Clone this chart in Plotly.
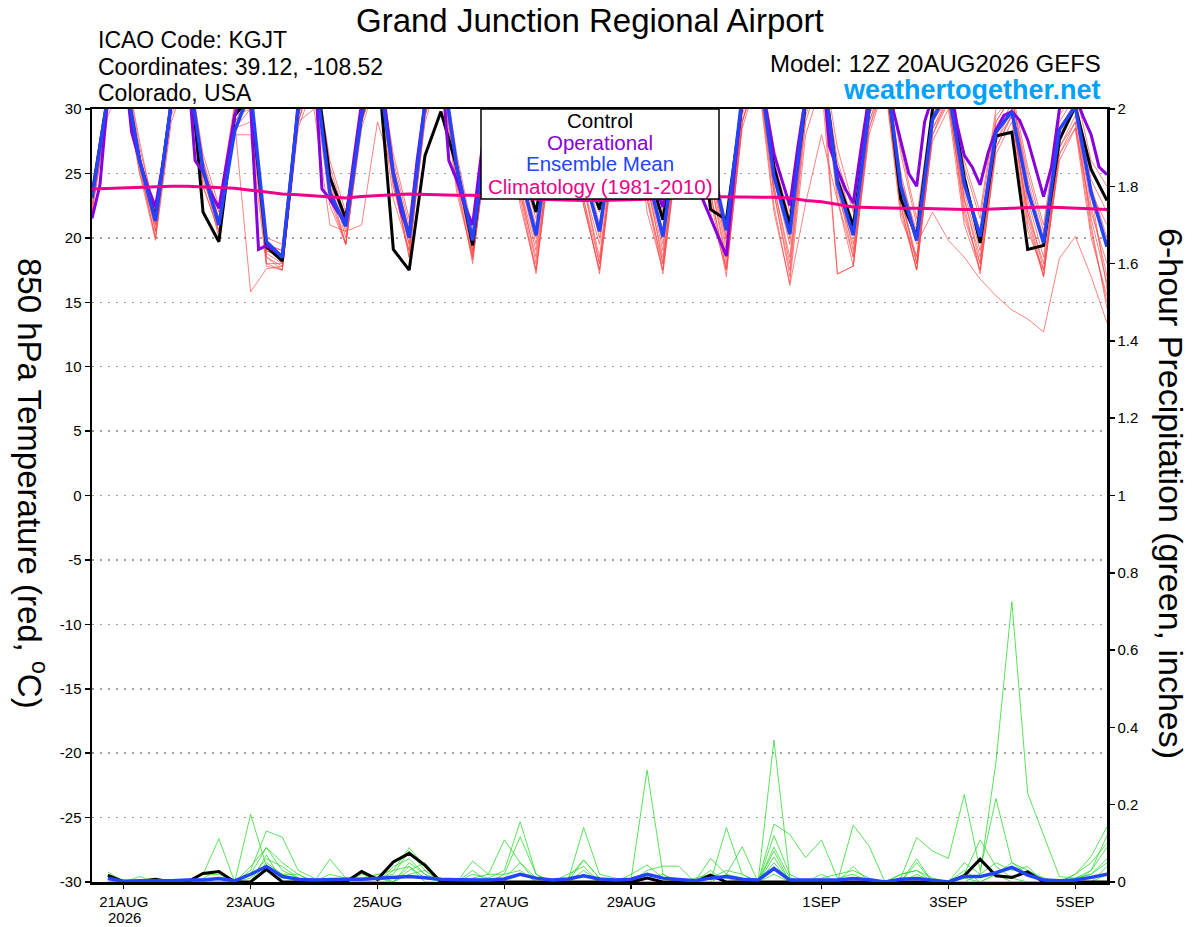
import pandas as pd
import plotly.graph_objects as go

# ---------------- data ----------------
START = "2026-08-20 12:00"
times6 = pd.date_range(START, periods=65, freq="6h")
times3 = pd.date_range(START, periods=129, freq="3h")
ptimes = times6[1:]

tick_dates = ["2026-08-21", "2026-08-23", "2026-08-25", "2026-08-27",
              "2026-08-29", "2026-09-01", "2026-09-03", "2026-09-05"]
tick_labels = ["21AUG", "23AUG", "25AUG", "27AUG", "29AUG", "1SEP", "3SEP", "5SEP"]
year_label = "2026"
temp_ticks = [-30, -25, -20, -15, -10, -5, 0, 5, 10, 15, 20, 25, 30]
temp_tick_labels = ["-30", "-25", "-20", "-15", "-10", "-5", "0", "5", "10", "15", "20", "25", "30"]

# 850 hPa temperature (C), 6-hourly
control_t = [23.3, 31.0, 33.0, 26.0, 21.5, 30.5, 36.0, 22.0, 19.7, 29.5, 31.0, 19.3,
             18.2, 30.0, 34.0, 24.7, 21.5, 29.5, 34.0, 19.1, 17.5, 26.4, 29.8, 25.5,
             19.4, 29.0, 33.0, 26.0, 22.0, 29.0, 33.0, 25.5, 22.2, 29.0, 33.0, 25.5,
             21.4, 29.0, 33.0, 22.2, 21.4, 30.5, 34.0, 25.5, 21.0, 30.5, 34.0, 24.5,
             20.9, 30.0, 34.0, 23.0, 20.1, 30.0, 32.0, 24.7, 19.6, 27.9, 28.2, 19.1,
             19.4, 27.6, 30.2, 25.3, 22.9]
mean_t = [23.1, 31.0, 33.0, 26.0, 21.3, 30.5, 33.5, 25.3, 21.0, 28.3, 31.5, 19.7,
          18.5, 30.0, 33.5, 23.5, 20.9, 29.5, 33.5, 25.0, 20.0, 30.5, 34.0, 25.5,
          19.8, 29.0, 33.0, 25.0, 20.2, 29.0, 33.0, 25.0, 20.5, 29.0, 33.0, 25.0,
          20.1, 29.0, 33.0, 26.0, 20.6, 31.0, 34.0, 24.8, 20.3, 31.0, 34.0, 24.2,
          20.2, 30.0, 33.5, 24.0, 19.8, 29.2, 31.5, 24.2, 20.1, 28.2, 29.8, 23.7,
          19.6, 28.4, 30.2, 23.5, 19.3]
# operational, 3-hourly
oper_t = [21.5, 24.1, 31.0, 33.0, 34.0, 28.2, 26.0, 24.0, 22.4, 26.0,
          30.5, 33.0, 34.0, 26.0, 25.1, 23.5, 22.3, 26.0, 29.5, 31.5,
          30.3, 19.1, 19.4, 19.0, 18.6, 24.0, 30.5, 33.0, 34.0, 23.8,
          23.0, 22.0, 21.3, 26.0, 30.5, 33.0, 34.0, 30.0, 25.0, 22.0,
          20.3, 26.0, 30.5, 33.0, 34.0, 26.0, 24.5, 22.5, 21.0, 26.0,
          30.5, 33.0, 34.0, 30.0, 26.5, 24.5, 23.5, 27.0, 30.5, 33.0,
          34.0, 30.0, 26.5, 24.5, 23.5, 27.0, 30.5, 33.0, 34.0, 30.0,
          26.0, 24.0, 22.4, 26.0, 30.5, 33.0, 34.0, 23.0, 21.5, 20.0,
          18.6, 25.0, 31.0, 33.0, 34.0, 30.0, 26.5, 24.5, 22.5, 27.0,
          31.0, 33.0, 34.0, 27.1, 25.3, 23.8, 22.7, 27.0, 31.0, 33.0,
          34.0, 30.0, 27.5, 25.0, 24.0, 29.0, 31.0, 33.0, 33.0, 29.0,
          26.4, 25.5, 24.1, 26.6, 28.4, 29.5, 29.8, 29.1, 27.6, 25.5,
          23.2, 25.5, 30.0, 31.0, 31.0, 29.4, 28.0, 25.5, 24.9]
clim_t = [23.8, 23.85, 23.9, 23.9, 24.0, 24.0, 24.0, 23.95, 23.9, 23.85, 23.7, 23.55,
          23.4, 23.35, 23.25, 23.2, 23.1, 23.2, 23.3, 23.35, 23.4, 23.35, 23.3, 23.3,
          23.3, 23.25, 23.2, 23.1, 23.0, 22.95, 22.9, 22.9, 22.9, 22.9, 22.95, 23.0,
          23.1, 23.15, 23.2, 23.2, 23.2, 23.2, 23.2, 23.15, 23.1, 22.9, 22.8, 22.6,
          22.4, 22.35, 22.3, 22.3, 22.3, 22.25, 22.2, 22.2, 22.2, 22.25, 22.3, 22.35,
          22.4, 22.35, 22.3, 22.25, 22.2]

member01 = [23.0, 30.5, 33.0, 26.5, 20.5, 30.0, 34.0, 25.0, 21.5, 29.0, 31.0, 18.5,
            17.8, 29.5, 33.5, 24.5, 20.0, 29.0, 33.0, 24.0, 19.0, 30.0, 34.0, 25.0,
            18.5, 28.5, 33.0, 24.0, 19.0, 28.0, 32.5, 24.0, 18.5, 28.5, 33.0, 24.5,
            18.0, 28.5, 33.0, 25.0, 19.0, 30.0, 33.5, 24.0, 18.5, 30.0, 33.0, 23.5,
            19.5, 29.5, 33.0, 23.0, 18.5, 28.5, 31.0, 23.0, 18.5, 27.5, 29.5, 22.0,
            18.0, 27.0, 29.5, 22.5, 17.0]
member02 = [23.5, 31.0, 34.0, 27.0, 22.0, 31.0, 34.5, 26.0, 22.0, 30.0, 32.0, 19.5,
            19.0, 30.5, 34.0, 25.5, 21.5, 30.0, 34.0, 26.0, 21.0, 31.0, 34.5, 26.0,
            20.0, 29.5, 33.5, 25.5, 21.5, 29.5, 33.0, 26.0, 21.0, 29.0, 33.5, 26.0,
            21.5, 29.5, 34.0, 26.5, 20.5, 31.0, 34.0, 26.0, 21.5, 31.0, 34.0, 26.0,
            22.0, 31.0, 34.0, 26.5, 21.0, 30.0, 32.5, 25.5, 21.5, 29.5, 31.0, 25.0,
            20.5, 29.0, 31.0, 24.5, 22.0]
member03 = [22.5, 30.0, 33.0, 25.5, 20.0, 30.0, 33.0, 24.0, 20.5, 29.0, 15.8, 17.6,
            17.8, 29.0, 33.0, 23.0, 19.5, 29.5, 33.5, 24.5, 18.5, 29.5, 33.5, 24.0,
            18.3, 28.0, 32.5, 23.0, 17.2, 27.5, 32.0, 22.5, 17.5, 28.0, 32.5, 23.5,
            17.5, 28.0, 32.5, 23.0, 17.0, 29.0, 33.0, 22.5, 16.3, 22.7, 28.0, 23.0,
            17.8, 29.0, 32.5, 22.0, 17.5, 28.0, 31.0, 21.5, 18.0, 27.5, 30.0, 21.0,
            17.0, 26.5, 29.0, 20.5, 15.0]
member04 = [23.0, 30.5, 33.5, 26.0, 21.0, 30.5, 33.5, 25.5, 21.0, 29.5, 30.5, 18.0,
            18.0, 30.0, 33.0, 24.0, 20.5, 29.5, 33.5, 25.0, 19.5, 30.0, 34.0, 25.5,
            19.0, 29.0, 33.0, 24.5, 20.0, 29.0, 33.0, 25.0, 20.0, 28.5, 33.0, 25.0,
            19.5, 29.0, 33.5, 25.5, 19.5, 30.5, 33.5, 25.0, 20.0, 30.5, 33.5, 24.5,
            20.5, 30.0, 33.0, 23.5, 19.5, 22.0, 19.8, 18.5, 16.8, 15.5, 14.4, 13.7,
            12.7, 18.4, 20.1, 17.0, 13.4]
member05 = [23.5, 31.0, 33.0, 26.0, 21.5, 30.5, 33.5, 26.0, 21.0, 29.5, 31.0, 19.0,
            18.5, 29.0, 30.0, 21.0, 20.5, 21.0, 29.0, 25.0, 20.5, 30.0, 33.5, 24.5,
            19.5, 29.0, 33.0, 24.0, 18.0, 28.0, 32.5, 24.0, 19.5, 28.5, 33.0, 24.5,
            19.0, 29.0, 33.0, 24.5, 18.5, 30.0, 33.5, 24.5, 19.5, 30.0, 33.5, 17.2,
            17.8, 28.5, 32.0, 23.0, 18.0, 29.0, 31.0, 23.5, 19.0, 28.0, 30.0, 23.0,
            18.5, 28.0, 30.0, 23.5, 16.0]
member06 = [22.0, 30.0, 32.5, 25.0, 21.0, 30.0, 33.0, 25.0, 20.5, 28.5, 30.0, 18.0,
            17.5, 29.0, 33.0, 24.0, 19.5, 29.0, 33.0, 24.0, 19.5, 29.5, 33.5, 25.0,
            18.8, 28.5, 32.5, 23.5, 17.5, 27.5, 32.5, 23.0, 17.2, 27.5, 32.5, 23.0,
            17.2, 27.5, 32.5, 23.5, 17.5, 29.0, 33.0, 23.5, 17.5, 29.5, 33.0, 24.0,
            18.5, 29.0, 32.5, 22.5, 17.5, 28.0, 30.5, 22.0, 17.5, 27.0, 29.5, 21.5,
            17.0, 26.5, 28.5, 22.0, 18.0]
member07 = [24.0, 31.5, 34.0, 27.5, 21.5, 31.0, 34.0, 26.5, 22.5, 30.5, 31.5, 20.0,
            19.5, 30.5, 34.0, 26.0, 22.0, 30.5, 34.0, 26.5, 21.5, 31.0, 34.5, 26.5,
            20.5, 30.0, 34.0, 26.5, 22.0, 30.0, 34.0, 26.5, 22.0, 30.0, 34.0, 26.5,
            22.0, 30.0, 34.0, 27.0, 21.0, 31.5, 34.5, 27.0, 22.0, 31.5, 34.5, 27.0,
            22.5, 31.5, 34.0, 27.0, 21.5, 30.5, 33.0, 26.0, 22.0, 30.0, 31.5, 25.5,
            21.0, 29.5, 31.5, 26.0, 24.0]
member08 = [23.0, 30.5, 33.0, 26.0, 20.5, 30.5, 33.5, 25.0, 20.0, 29.0, 30.5, 18.8,
            18.0, 29.5, 33.0, 24.5, 21.0, 29.5, 33.5, 25.0, 20.0, 30.0, 34.0, 25.5,
            19.0, 28.5, 33.0, 24.5, 19.5, 28.5, 33.0, 24.0, 18.0, 28.0, 33.0, 24.0,
            18.5, 28.5, 33.0, 24.5, 18.0, 29.5, 33.5, 24.0, 18.0, 30.0, 33.5, 24.5,
            19.0, 29.5, 33.0, 23.5, 18.0, 29.0, 31.0, 23.0, 18.0, 28.0, 30.5, 22.5,
            17.5, 27.5, 30.0, 21.0, 14.5]
member09 = [22.5, 30.0, 32.5, 25.5, 20.0, 29.5, 33.0, 24.5, 21.0, 28.5, 29.0, 18.5,
            17.5, 29.0, 33.0, 23.5, 19.5, 29.0, 33.0, 24.5, 18.5, 29.5, 33.5, 24.5,
            18.0, 28.0, 32.5, 23.5, 18.5, 27.5, 32.5, 23.0, 18.0, 27.5, 32.5, 23.0,
            18.0, 28.0, 32.5, 23.5, 17.5, 29.0, 33.0, 23.5, 17.0, 29.0, 33.0, 23.0,
            18.5, 28.5, 32.5, 22.5, 17.5, 28.5, 30.5, 22.5, 17.2, 27.0, 29.5, 22.0,
            17.0, 27.0, 29.0, 21.5, 16.5]
member10 = [23.5, 30.5, 33.5, 26.5, 21.5, 30.5, 34.0, 25.5, 21.5, 29.5, 30.0, 19.0,
            18.5, 30.0, 33.5, 25.0, 21.0, 30.0, 33.5, 25.5, 20.5, 30.5, 34.0, 26.0,
            19.5, 29.5, 33.5, 25.0, 20.5, 29.5, 33.5, 25.5, 20.5, 29.0, 33.5, 25.5,
            20.5, 29.5, 33.5, 25.5, 20.0, 30.5, 34.0, 25.5, 20.5, 30.5, 34.0, 25.5,
            21.0, 30.5, 33.5, 25.0, 20.0, 29.5, 32.0, 24.5, 20.5, 29.0, 31.0, 24.0,
            19.5, 28.5, 30.5, 24.0, 20.0]
member11 = [22.0, 29.5, 32.0, 25.0, 19.8, 29.0, 32.5, 24.0, 20.5, 28.0, 28.0, 17.8,
            17.5, 28.5, 32.0, 22.5, 19.5, 28.5, 32.5, 23.0, 19.0, 29.0, 33.0, 23.5,
            18.5, 27.5, 32.0, 22.5, 17.5, 27.0, 32.0, 22.5, 17.5, 27.0, 32.0, 22.0,
            17.5, 27.5, 32.0, 22.0, 17.5, 28.5, 32.5, 22.0, 16.5, 28.0, 32.0, 17.2,
            17.8, 28.0, 32.0, 21.5, 18.5, 27.5, 30.0, 21.0, 17.5, 26.5, 29.0, 20.5,
            17.5, 26.0, 28.5, 20.0, 15.5]
member12 = [23.0, 31.0, 33.5, 26.0, 22.0, 30.5, 33.5, 25.5, 21.5, 30.0, 31.5, 19.5,
            19.0, 30.0, 33.5, 25.0, 21.0, 30.0, 33.5, 25.5, 20.5, 30.5, 34.0, 25.5,
            19.5, 29.0, 33.0, 25.0, 21.0, 29.0, 33.0, 25.0, 20.5, 29.0, 33.0, 25.0,
            20.0, 29.0, 33.0, 25.0, 20.0, 30.5, 33.5, 25.0, 20.5, 30.5, 33.5, 25.0,
            21.0, 30.5, 33.5, 24.5, 20.5, 29.5, 32.0, 24.0, 20.5, 29.0, 31.0, 24.5,
            20.0, 28.5, 30.5, 23.5, 21.0]
members_t = [member01, member02, member03, member04, member05, member06,
             member07, member08, member09, member10, member11, member12]

# 6-hour precipitation (inches), valid 18Z 20AUG .. 12Z 5SEP
control_p = [0.017, 0.0, 0.002, 0.007, 0.0, 0.0, 0.022, 0.027,
             0.0, 0.0, 0.033, 0.0, 0.0, 0.0, 0.0, 0.0,
             0.027, 0.007, 0.052, 0.074, 0.043, 0.0, 0.0, 0.0,
             0.0, 0.0, 0.0, 0.0, 0.0, 0.0, 0.0, 0.0,
             0.0, 0.0, 0.01, 0.0, 0.0, 0.0, 0.018, 0.0,
             0.0, 0.0, 0.0, 0.0, 0.0, 0.0, 0.0, 0.0,
             0.0, 0.0, 0.0, 0.0, 0.0, 0.0, 0.016, 0.059,
             0.016, 0.012, 0.026, 0.0, 0.0, 0.0, 0.0, 0.0]
mean_p = [0.009, 0.002, 0.003, 0.002, 0.003, 0.005, 0.005, 0.009,
          0.003, 0.02, 0.04, 0.014, 0.007, 0.005, 0.007, 0.007,
          0.007, 0.009, 0.011, 0.014, 0.011, 0.007, 0.006, 0.006,
          0.005, 0.008, 0.02, 0.01, 0.005, 0.008, 0.016, 0.008,
          0.005, 0.007, 0.02, 0.01, 0.006, 0.003, 0.01, 0.014,
          0.007, 0.005, 0.035, 0.005, 0.005, 0.005, 0.005, 0.009,
          0.006, 0.0, 0.007, 0.009, 0.004, 0.0, 0.014, 0.014,
          0.024, 0.038, 0.018, 0.005, 0.003, 0.005, 0.012, 0.02]
pmember01 = [0.026, 0.0, 0.014, 0.0, 0.0, 0.005, 0.02, 0.112,
             0.0, 0.02, 0.089, 0.03, 0.01, 0.0, 0.02, 0.01,
             0.01, 0.02, 0.03, 0.089, 0.04, 0.0, 0.0, 0.02,
             0.01, 0.03, 0.156, 0.02, 0.0, 0.01, 0.057, 0.01,
             0.0, 0.02, 0.044, 0.01, 0.0, 0.0, 0.01, 0.03,
             0.02, 0.0, 0.09, 0.01, 0.0, 0.01, 0.02, 0.03,
             0.01, 0.0, 0.02, 0.03, 0.01, 0.0, 0.05, 0.02,
             0.311, 0.725, 0.229, 0.12, 0.014, 0.01, 0.02, 0.05]
pmember02 = [0.015, 0.0, 0.005, 0.0, 0.0, 0.0, 0.01, 0.03,
             0.0, 0.175, 0.04, 0.02, 0.0, 0.0, 0.01, 0.0,
             0.02, 0.01, 0.02, 0.08, 0.03, 0.0, 0.0, 0.054,
             0.02, 0.109, 0.05, 0.01, 0.0, 0.0, 0.141, 0.02,
             0.01, 0.0, 0.01, 0.02, 0.0, 0.01, 0.02, 0.01,
             0.0, 0.0, 0.15, 0.123, 0.063, 0.109, 0.01, 0.02,
             0.0, 0.0, 0.01, 0.115, 0.08, 0.061, 0.226, 0.03,
             0.216, 0.05, 0.02, 0.01, 0.0, 0.02, 0.066, 0.143]
pmember03 = [0.01, 0.0, 0.0, 0.0, 0.0, 0.0, 0.0, 0.01,
             0.0, 0.03, 0.132, 0.116, 0.03, 0.01, 0.0, 0.0,
             0.0, 0.01, 0.0, 0.05, 0.02, 0.0, 0.0, 0.03,
             0.0, 0.02, 0.117, 0.02, 0.0, 0.0, 0.057, 0.01,
             0.0, 0.01, 0.29, 0.02, 0.0, 0.0, 0.0, 0.141,
             0.02, 0.0, 0.02, 0.0, 0.0, 0.02, 0.0, 0.147,
             0.093, 0.0, 0.02, 0.03, 0.0, 0.0, 0.01, 0.0,
             0.02, 0.05, 0.03, 0.01, 0.0, 0.02, 0.05, 0.1]
pmember04 = [0.02, 0.005, 0.0, 0.0, 0.0, 0.0, 0.0, 0.0,
             0.0, 0.04, 0.089, 0.05, 0.02, 0.0, 0.059, 0.01,
             0.0, 0.0, 0.04, 0.06, 0.02, 0.0, 0.0, 0.01,
             0.02, 0.02, 0.03, 0.0, 0.0, 0.0, 0.02, 0.0,
             0.0, 0.0, 0.03, 0.041, 0.041, 0.0, 0.061, 0.02,
             0.091, 0.0, 0.367, 0.01, 0.0, 0.0, 0.0, 0.01,
             0.0, 0.0, 0.0, 0.02, 0.0, 0.0, 0.02, 0.109,
             0.04, 0.01, 0.0, 0.0, 0.0, 0.01, 0.02, 0.06]
pmember05 = [0.0, 0.0, 0.0, 0.0, 0.0, 0.0, 0.02, 0.02,
             0.0, 0.01, 0.06, 0.04, 0.01, 0.0, 0.0, 0.0,
             0.0, 0.02, 0.0, 0.04, 0.01, 0.0, 0.0, 0.0,
             0.0, 0.01, 0.05, 0.0, 0.0, 0.0, 0.03, 0.0,
             0.0, 0.0, 0.02, 0.01, 0.0, 0.0, 0.0, 0.02,
             0.01, 0.0, 0.12, 0.02, 0.0, 0.0, 0.0, 0.04,
             0.0, 0.0, 0.0, 0.05, 0.0, 0.0, 0.0, 0.02,
             0.05, 0.03, 0.04, 0.0, 0.0, 0.0, 0.03, 0.09]
pmember06 = [0.0, 0.0, 0.0, 0.0, 0.0, 0.0, 0.0, 0.0,
             0.0, 0.0, 0.05, 0.02, 0.0, 0.0, 0.0, 0.0,
             0.0, 0.0, 0.0, 0.03, 0.05, 0.0, 0.0, 0.0,
             0.0, 0.0, 0.0, 0.0, 0.0, 0.0, 0.0, 0.0,
             0.0, 0.0, 0.0, 0.0, 0.0, 0.0, 0.0, 0.0,
             0.0, 0.0, 0.065, 0.0, 0.0, 0.0, 0.0, 0.0,
             0.0, 0.0, 0.0, 0.0, 0.0, 0.0, 0.0, 0.0,
             0.02, 0.0, 0.0, 0.0, 0.0, 0.0, 0.0, 0.02]
pmember07 = [0.01, 0.0, 0.0, 0.0, 0.0, 0.0, 0.0, 0.01,
             0.0, 0.0, 0.07, 0.0, 0.0, 0.0, 0.0, 0.0,
             0.0, 0.0, 0.03, 0.04, 0.0, 0.0, 0.0, 0.0,
             0.0, 0.0, 0.0, 0.0, 0.0, 0.02, 0.04, 0.0,
             0.0, 0.0, 0.0, 0.0, 0.0, 0.0, 0.03, 0.0,
             0.0, 0.0, 0.05, 0.0, 0.0, 0.0, 0.0, 0.0,
             0.0, 0.0, 0.0, 0.06, 0.0, 0.0, 0.03, 0.0,
             0.0, 0.0, 0.0, 0.0, 0.0, 0.0, 0.0, 0.04]
pmember08 = [0.0, 0.0, 0.0, 0.0, 0.0, 0.0, 0.0, 0.0,
             0.0, 0.0, 0.03, 0.02, 0.02, 0.0, 0.0, 0.0,
             0.0, 0.0, 0.0, 0.02, 0.03, 0.0, 0.0, 0.0,
             0.01, 0.0, 0.0, 0.0, 0.0, 0.0, 0.0, 0.0,
             0.0, 0.0, 0.0, 0.0, 0.0, 0.0, 0.0, 0.0,
             0.0, 0.0, 0.08, 0.0, 0.0, 0.0, 0.0, 0.0,
             0.0, 0.0, 0.0, 0.0, 0.0, 0.0, 0.0, 0.0,
             0.0, 0.0, 0.0, 0.0, 0.0, 0.01, 0.03, 0.12]
members_p = [pmember01, pmember02, pmember03, pmember04,
             pmember05, pmember06, pmember07, pmember08]

# ---------------- styling ----------------
FONT = "Liberation Sans"
RED = "rgba(255,70,70,0.85)"
GREEN = "#2edc2e"
BLACK = "#000000"
PURPLE = "#8800dd"
BLUE = "#2244ff"
PINK = "#ee0088"

# target plot box on screen (page body margin removed by post_script)
L, R, T, B = 92, 1107, 109, 882
W, H = 1200, 927


def px(x):
    return (x - L) / (R - L)


def py(y):
    return (B - y) / (B - T)


fig = go.Figure()

for m in members_t:
    fig.add_trace(go.Scatter(x=times6, y=m, mode="lines",
                             line=dict(color=RED, width=0.8), hoverinfo="skip"))
for m in members_p:
    fig.add_trace(go.Scatter(x=ptimes, y=m, mode="lines", yaxis="y2",
                             line=dict(color=GREEN, width=0.8), hoverinfo="skip"))

fig.add_trace(go.Scatter(x=ptimes, y=control_p, mode="lines", yaxis="y2",
                         line=dict(color=BLACK, width=3)))
fig.add_trace(go.Scatter(x=ptimes, y=mean_p, mode="lines", yaxis="y2",
                         line=dict(color=BLUE, width=3.5)))

fig.add_trace(go.Scatter(x=times6, y=control_t, mode="lines",
                         line=dict(color=BLACK, width=3)))
fig.add_trace(go.Scatter(x=times3, y=oper_t, mode="lines",
                         line=dict(color=PURPLE, width=3)))
fig.add_trace(go.Scatter(x=times6, y=mean_t, mode="lines",
                         line=dict(color=BLUE, width=3.5)))
fig.add_trace(go.Scatter(x=times6, y=clim_t, mode="lines",
                         line=dict(color=PINK, width=3)))

tickfont = dict(family=FONT, size=15, color="black")

fig.update_layout(
    width=W, height=H,
    margin=dict(l=L, r=W - R, t=T, b=H - B, pad=0, autoexpand=False),
    paper_bgcolor="white", plot_bgcolor="white",
    showlegend=False, hovermode=False,
    font=dict(family=FONT, color="black"),
    xaxis=dict(
        range=[times6[0], times6[-1]], automargin=False,
        tickvals=tick_dates, ticktext=tick_labels,
        ticks="outside", ticklen=4, tickwidth=1.5, tickcolor="black",
        tickfont=tickfont, showgrid=False, zeroline=False,
        showline=True, linecolor="black", linewidth=2.5, mirror=True,
    ),
    yaxis=dict(
        range=[-30, 30], tickvals=temp_ticks, ticktext=temp_tick_labels,
        automargin=False,
        ticks="outside", ticklen=5, tickwidth=1.5, tickcolor="black",
        tickfont=tickfont, showgrid=True, gridcolor="#a0a0a0",
        griddash="2px,6px", gridwidth=1.5, zeroline=False,
        showline=True, linecolor="black", linewidth=2.5,
    ),
    yaxis2=dict(
        range=[0, 2], dtick=0.2, overlaying="y", side="right", automargin=False,
        ticks="outside", ticklen=5, tickwidth=1.5, tickcolor="black",
        tickfont=tickfont, showgrid=False, zeroline=False,
        showline=True, linecolor="black", linewidth=2.5,
    ),
)

# legend box
fig.add_shape(type="rect", xref="paper", yref="paper",
              x0=px(481), x1=px(719), y0=py(199), y1=py(109),
              fillcolor="white", line=dict(color="black", width=1.5), layer="above")

ann = []


def text(x, y, s, size, color="black", xanchor="center", bold=False, angle=0):
    if bold:
        s = "<b>" + s + "</b>"
    ann.append(dict(x=px(x), y=py(y), xref="paper", yref="paper", text=s,
                    showarrow=False, xanchor=xanchor, yanchor="middle",
                    textangle=angle, borderpad=0,
                    font=dict(family=FONT, size=size, color=color)))


text(600, 121, "Control", 20.5, BLACK)
text(600, 142, "Operational", 20.5, PURPLE)
text(600, 164, "Ensemble Mean", 20.5, BLUE)
text(600, 186, "Climatology (1981-2010)", 20.5, PINK)

text(590, 20, "Grand Junction Regional Airport", 33)
text(97, 40, "ICAO Code: KGJT", 23, xanchor="left")
text(97, 67, "Coordinates: 39.12, -108.52", 23, xanchor="left")
text(97, 93, "Colorado, USA", 23, xanchor="left")
text(1102, 64, "Model: 12Z 20AUG2026 GEFS", 24, xanchor="right")
text(1102, 90, "weathertogether.net", 27, color="#00a0ff", xanchor="right", bold=True)

text(124, 917, year_label, 15)

text(32, 483, "850 hPa Temperature (red, <sup>o</sup>C)", 33, angle=90)
text(1171, 493, "6-hour Precipitation (green, inches)", 34, angle=90)

fig.update_layout(annotations=ann)

fig.write_html("out.html",
               config={"displayModeBar": False, "staticPlot": True},
               post_script="document.body.style.margin='0';"
                           "document.body.style.overflow='hidden';")
